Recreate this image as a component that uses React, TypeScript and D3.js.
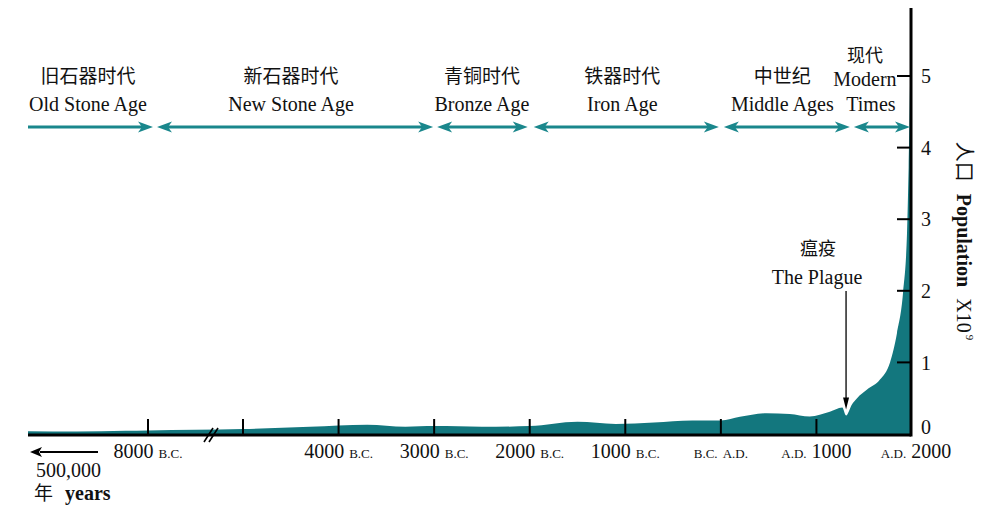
import React from 'react';
import * as d3 from 'd3';

// ---- data ----
const years = [-500000, -300000, -100000, -8000, -6500, -5000, -4300, -4000, -3700, -3300, -3000, -2500, -2000, -1500, -1100, -700, -300, 0, 200, 480, 720, 930, 1140, 1270, 1310, 1370, 1425, 1530, 1665, 1770, 1843, 1906, 1948, 1965, 1985, 2000];
const population = [0.04, 0.035, 0.045, 0.05, 0.06, 0.07, 0.1, 0.12, 0.13, 0.1, 0.11, 0.1, 0.11, 0.17, 0.14, 0.16, 0.19, 0.19, 0.24, 0.29, 0.28, 0.245, 0.31, 0.37, 0.26, 0.41, 0.5, 0.62, 0.76, 1.0, 1.41, 1.97, 2.81, 3.73, 5.2, 5.5];

const xTickYears = [-8000, -5000, -4000, -3000, -2000, -1000, 0, 1000, 2000];
const xTickLabels = ['8000 B.C.', '', '4000 B.C.', '3000 B.C.', '2000 B.C.', '1000 B.C.', 'B.C. A.D.', 'A.D. 1000', 'A.D. 2000'];
const yTicks = [0, 1, 2, 3, 4, 5];

const periodStart = [-500000, -8000, -3000, -2000, 0, 1350];
const periodEnd = [-8000, -3000, -2000, 0, 1350, 2000];
const periodCn = ['旧石器时代', '新石器时代', '青铜时代', '铁器时代', '中世纪', '现代'];
const periodEn = ['Old Stone Age', 'New Stone Age', 'Bronze Age', 'Iron Age', 'Middle Ages', 'Modern|Times'];

const plagueYear = 1310;

const SERIF = '"Liberation Serif", "DejaVu Serif", serif';
const CJK = '"Noto Sans CJK SC", sans-serif';
const AREA = '#13777e';
const ARROW = '#1a878c';

export default function App() {
  const W = 1000, H = 525;
  const x = d3.scaleLinear().domain([-500000, -8000, -5000, 2000]).range([28, 148, 243, 912]);
  const y = d3.scaleLinear().domain([0, 5]).range([434, 76]);
  const axisX = 911;
  const baseY = 435;
  const arrowY = 127;

  const pts = years.map((yr, i) => [yr, population[i]] as [number, number]);
  const area = d3.area<[number, number]>()
    .x(d => x(d[0]))
    .y0(y(0))
    .y1(d => y(d[1]))
    .curve(d3.curveMonotoneX)(pts) || '';

  const head = (tipX: number, dir: number) => {
    const L = 15, h = 5.5, n = 11;
    return `M${tipX},${arrowY} L${tipX - dir * L},${arrowY - h} L${tipX - dir * n},${arrowY} L${tipX - dir * L},${arrowY + h} Z`;
  };

  const px = x(plagueYear);

  const labelDx = [0, 0, 0, -3, -3, -16];
  const leftPad = [0, 9, 3, 4, 3, 4];
  const rightPad = [-5, 1, 2, 2, 0, 1];

  return (
    <svg width={W} height={H} style={{ position: 'absolute', left: 0, top: 0, background: '#fff' }}>
      {/* population area */}
      <path d={area} fill={AREA} />

      {/* x baseline */}
      <line x1={28} x2={axisX} y1={baseY} y2={baseY} stroke="#000" strokeWidth={3} />
      {/* break mark */}
      <line x1={204} y1={442} x2={213} y2={428} stroke="#000" strokeWidth={1.6} />
      <line x1={209} y1={442} x2={218} y2={428} stroke="#000" strokeWidth={1.6} />

      {/* x ticks */}
      {xTickYears.map((yr, i) => (
        <g key={'xt' + i}>
          {yr < 2000 && <line x1={x(yr)} x2={x(yr)} y1={baseY} y2={419} stroke="#000" strokeWidth={2} />}
          {xTickLabels[i] && (
            <text x={x(yr) + (yr === 2000 ? 4 : 0)} y={458} textAnchor="middle" fontFamily={SERIF} fill="#111">
              {xTickLabels[i].split(' ').map((tok, j) => {
                const isNum = /^\d+$/.test(tok);
                return (
                  <tspan key={j} fontSize={isNum ? 20 : 13} dx={j > 0 ? 5 : 0}>{tok}</tspan>
                );
              })}
            </text>
          )}
        </g>
      ))}

      {/* y axis */}
      <line x1={axisX} x2={axisX} y1={8} y2={baseY + 1.5} stroke="#000" strokeWidth={3} />
      {yTicks.map(t => (
        <g key={'yt' + t}>
          {t > 0 && <line x1={897} x2={axisX} y1={y(t)} y2={y(t)} stroke="#000" strokeWidth={2} />}
          <text x={921} y={y(t) - (t === 0 ? 7 : 0)} dy="0.36em" fontFamily={SERIF} fontSize={20} fill="#111">{t}</text>
        </g>
      ))}

      {/* y title */}
      <text transform="translate(957,241) rotate(90)" textAnchor="middle" fill="#111">
        <tspan fontFamily={CJK} fontSize={20}>人口</tspan>
        <tspan fontFamily={SERIF} fontSize={20} fontWeight="bold" dx={12}>Population</tspan>
        <tspan fontFamily={SERIF} fontSize={20} dx={11}>X10</tspan>
        <tspan fontFamily={SERIF} fontSize={11} dy={-9} dx={2}>9</tspan>
      </text>

      {/* period arrows and labels */}
      {periodStart.map((s, i) => {
        const x0 = x(s), x1 = x(periodEnd[i]);
        const left = x0 + leftPad[i];
        const right = i === periodStart.length - 1 ? axisX - 1 : x1 - rightPad[i];
        const cx = (x0 + x1) / 2 + labelDx[i];
        const en = periodEn[i].split('|');
        const multi = en.length > 1;
        return (
          <g key={'p' + i}>
            <line x1={left + (i === 0 ? 0 : 8)} x2={right - 8} y1={arrowY} y2={arrowY} stroke={ARROW} strokeWidth={3} />
            {i > 0 && <path d={head(left, -1)} fill={ARROW} />}
            <path d={head(right, 1)} fill={ARROW} />
            <text x={cx} y={multi ? 62 : 83} textAnchor="middle" fontFamily={CJK} fontSize={multi ? 18 : 19} fill="#111">{periodCn[i]}</text>
            {en.map((line, j) => (
              <text key={j} x={cx + (multi && j === 1 ? 6 : 0)} y={multi ? 86 + j * 25 : 111} textAnchor="middle" fontFamily={SERIF} fontSize={20} fill="#111">{line}</text>
            ))}
          </g>
        );
      })}

      {/* plague annotation */}
      <text x={818} y={255} textAnchor="middle" fontFamily={CJK} fontSize={18} fill="#111">瘟疫</text>
      <text x={817} y={284} textAnchor="middle" fontFamily={SERIF} fontSize={20} fill="#111">The Plague</text>
      <line x1={px} x2={px} y1={291} y2={398} stroke="#000" strokeWidth={1.3} />
      <path d={`M${px},${y(0.37) + 2} L${px - 3},${y(0.37) - 10} L${px + 3},${y(0.37) - 10} Z`} fill="#000" />

      {/* bottom-left note */}
      <line x1={40} x2={98} y1={452} y2={452} stroke="#000" strokeWidth={2.2} />
      <path d="M30,452 L42,447 L39,452 L42,457 Z" fill="#000" />
      <text x={36} y={477} fontFamily={SERIF} fontSize={20} fill="#111">500,000</text>
      <text x={34} y={500} fill="#111">
        <tspan fontFamily={CJK} fontSize={19}>年</tspan>
        <tspan fontFamily={SERIF} fontSize={20} fontWeight="bold" dx={12}>years</tspan>
      </text>
    </svg>
  );
}
